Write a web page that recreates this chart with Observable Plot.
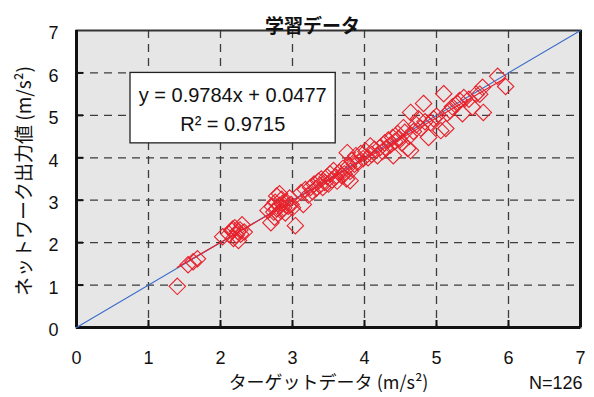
<!DOCTYPE html>
<html><head><meta charset="utf-8">
<script src="https://cdn.jsdelivr.net/npm/d3@7"></script>
<script src="https://cdn.jsdelivr.net/npm/@observablehq/plot@0.6"></script>
<style>
body{margin:0;background:#fff;}
#chart svg{display:block;}
</style></head><body><div id="chart"></div>
<script>
const title = "学習データ";
const xLabel = "ターゲットデータ (m/s²)";
const yLabel = "ネットワーク出力値 (m/s²)";
const countLabel = "N=126";
const eqLine1 = "y = 0.9784x + 0.0477";
const eqLine2 = "R² = 0.9715";
const slope = 0.9784;
const intercept = 0.0477;
const axisTicks = [0, 1, 2, 3, 4, 5, 6, 7];
const innerTicks = [1, 2, 3, 4, 5, 6];

const target = [
1.40,1.55,1.62,1.68,
2.03,2.12,2.16,2.18,2.20,2.22,2.24,2.25,2.27,2.28,2.30,2.33,2.17,
2.66,2.70,2.72,2.74,2.76,2.78,2.78,2.80,2.82,2.84,2.85,2.86,2.88,2.90,2.92,2.94,2.96,2.98,3.00,3.04,2.82,2.75,
3.12,3.15,3.18,3.22,3.25,3.28,3.30,3.33,3.36,3.38,3.40,3.42,3.45,3.48,3.50,3.52,3.55,3.57,3.60,3.62,3.65,3.68,3.70,3.72,3.75,3.78,3.80,3.80,
3.83,3.86,3.88,3.92,3.95,3.98,4.02,4.05,4.08,4.10,4.14,4.18,4.22,4.25,4.28,4.30,4.33,4.36,4.39,4.40,4.42,4.46,4.48,4.52,4.54,4.56,4.60,4.62,4.64,4.64,3.76,
4.68,4.72,4.75,4.78,4.82,4.84,4.89,4.92,4.96,5.00,5.06,5.10,5.13,5.15,
5.19,5.22,5.29,5.32,5.36,5.38,5.45,5.50,5.55,5.60,5.64,5.65,5.85,5.96
];
const output = [
0.97,1.48,1.55,1.62,
2.14,2.20,2.28,2.10,2.35,2.18,2.26,2.05,2.30,2.20,2.42,2.25,2.32,
2.76,2.47,2.85,2.72,2.95,2.80,3.10,2.68,2.88,2.75,3.02,2.92,2.82,2.70,2.95,2.86,3.05,2.90,2.82,2.40,3.15,2.60,
3.18,2.90,3.25,3.12,3.30,3.20,3.38,3.28,3.45,3.35,3.50,3.30,3.42,3.55,3.38,3.62,3.48,3.70,3.55,3.45,3.65,3.58,3.75,3.62,3.50,3.80,3.46,3.68,
3.94,3.85,4.05,3.90,4.10,3.98,4.15,4.00,4.28,4.08,4.20,4.05,4.25,4.15,4.35,4.22,4.42,4.30,4.48,4.05,4.38,4.57,4.45,4.35,4.71,4.60,4.22,4.50,4.17,5.07,4.12,
4.62,4.78,4.92,4.70,5.28,4.85,4.48,4.83,4.92,4.98,4.64,5.51,4.69,5.05,
5.11,5.20,5.28,5.35,5.04,5.42,5.38,5.19,5.50,5.50,5.66,5.07,5.92,5.68
];

const points = target.map((t, i) => ({x: t, y: output[i]}));
const [xmin, xmax] = d3.extent(target);
const fitLine = [xmin, xmax].map(x => ({x, y: slope * x + intercept}));
const domain = d3.extent(axisTicks);
const refLine = domain.map(v => ({x: v, y: v}));

const jp = "'Noto Sans CJK JP', sans-serif";
const red = "#e8222c";
const intFmt = d3.format("d");

const chart = Plot.plot({
  width: 594,
  height: 397,
  marginLeft: 76,
  marginRight: 14,
  marginTop: 30,
  marginBottom: 70,
  x: {domain, ticks: axisTicks, label: null},
  y: {domain, ticks: axisTicks, label: null},
  style: {fontFamily: "'Liberation Sans', Arial, sans-serif", fontSize: "18px", background: "white", color: "#111"},
  marks: [
    Plot.frame({fill: "#e6e6e6"}),
    Plot.gridX({ticks: innerTicks, stroke: "#3c3c3c", strokeOpacity: 1, strokeWidth: 1.3, strokeDasharray: "8,6"}),
    Plot.gridY({ticks: innerTicks, stroke: "#3c3c3c", strokeOpacity: 1, strokeWidth: 1.3, strokeDasharray: "8,6"}),
    Plot.frame({stroke: "#333", strokeWidth: 2}),
    Plot.ruleX([domain[0]], {stroke: "#111", strokeWidth: 3}),
    Plot.ruleX([domain[1]], {stroke: "#111", strokeWidth: 3}),
    Plot.ruleY([domain[0]], {stroke: "#111", strokeWidth: 3}),
    Plot.axisX({ticks: innerTicks, tickSize: -7, tickFormat: () => "", strokeWidth: 2, stroke: "#111", label: null}),
    Plot.axisY({ticks: innerTicks, tickSize: -7, tickFormat: () => "", strokeWidth: 2, stroke: "#111", label: null}),
    Plot.axisX({ticks: axisTicks, tickSize: 0, tickPadding: 24, tickFormat: intFmt, fontSize: 18, label: null}),
    Plot.axisY({ticks: axisTicks, tickSize: 0, tickPadding: 18, tickFormat: intFmt, dy: 3, fontSize: 18, label: null}),
    Plot.line(refLine, {x: "x", y: "y", stroke: "#3a6cc8", strokeWidth: 1.1}),
    Plot.dot(points, {x: "x", y: "y", symbol: "diamond2", r: 7.4, stroke: red, strokeWidth: 1.1, fill: "none"}),
    Plot.line(fitLine, {x: "x", y: "y", stroke: red, strokeWidth: 1.2}),
    Plot.rect([0], {x1: 0.75, x2: 3.6, y1: 4.34, y2: 6, fill: "white", stroke: "#222", strokeWidth: 1.3}),
    Plot.text([eqLine1], {x: 2.17, y: 5.47, text: d => d, fontSize: 20, fill: "#111"}),
    Plot.text([eqLine2], {x: 2.17, y: 4.78, text: d => d, fontSize: 20, fill: "#111"}),
    Plot.text([title], {frameAnchor: "top", text: d => d, dx: -16, dy: -11, fontSize: 19, fontWeight: "bold", fontFamily: jp, fill: "#111"}),
    Plot.text([xLabel], {frameAnchor: "bottom", text: d => d, dy: 61, fontSize: 18, fontFamily: jp, fill: "#111"}),
    Plot.text([yLabel], {frameAnchor: "left", textAnchor: "middle", text: d => d, rotate: -90, dx: -52, dy: 2, fontSize: 19, fontFamily: jp, fill: "#111"}),
    Plot.text([countLabel], {frameAnchor: "bottom-right", text: d => d, textAnchor: "end", dx: 2, dy: 61, fontSize: 18, fill: "#111"})
  ]
});
document.getElementById("chart").appendChild(chart);
</script></body></html>
